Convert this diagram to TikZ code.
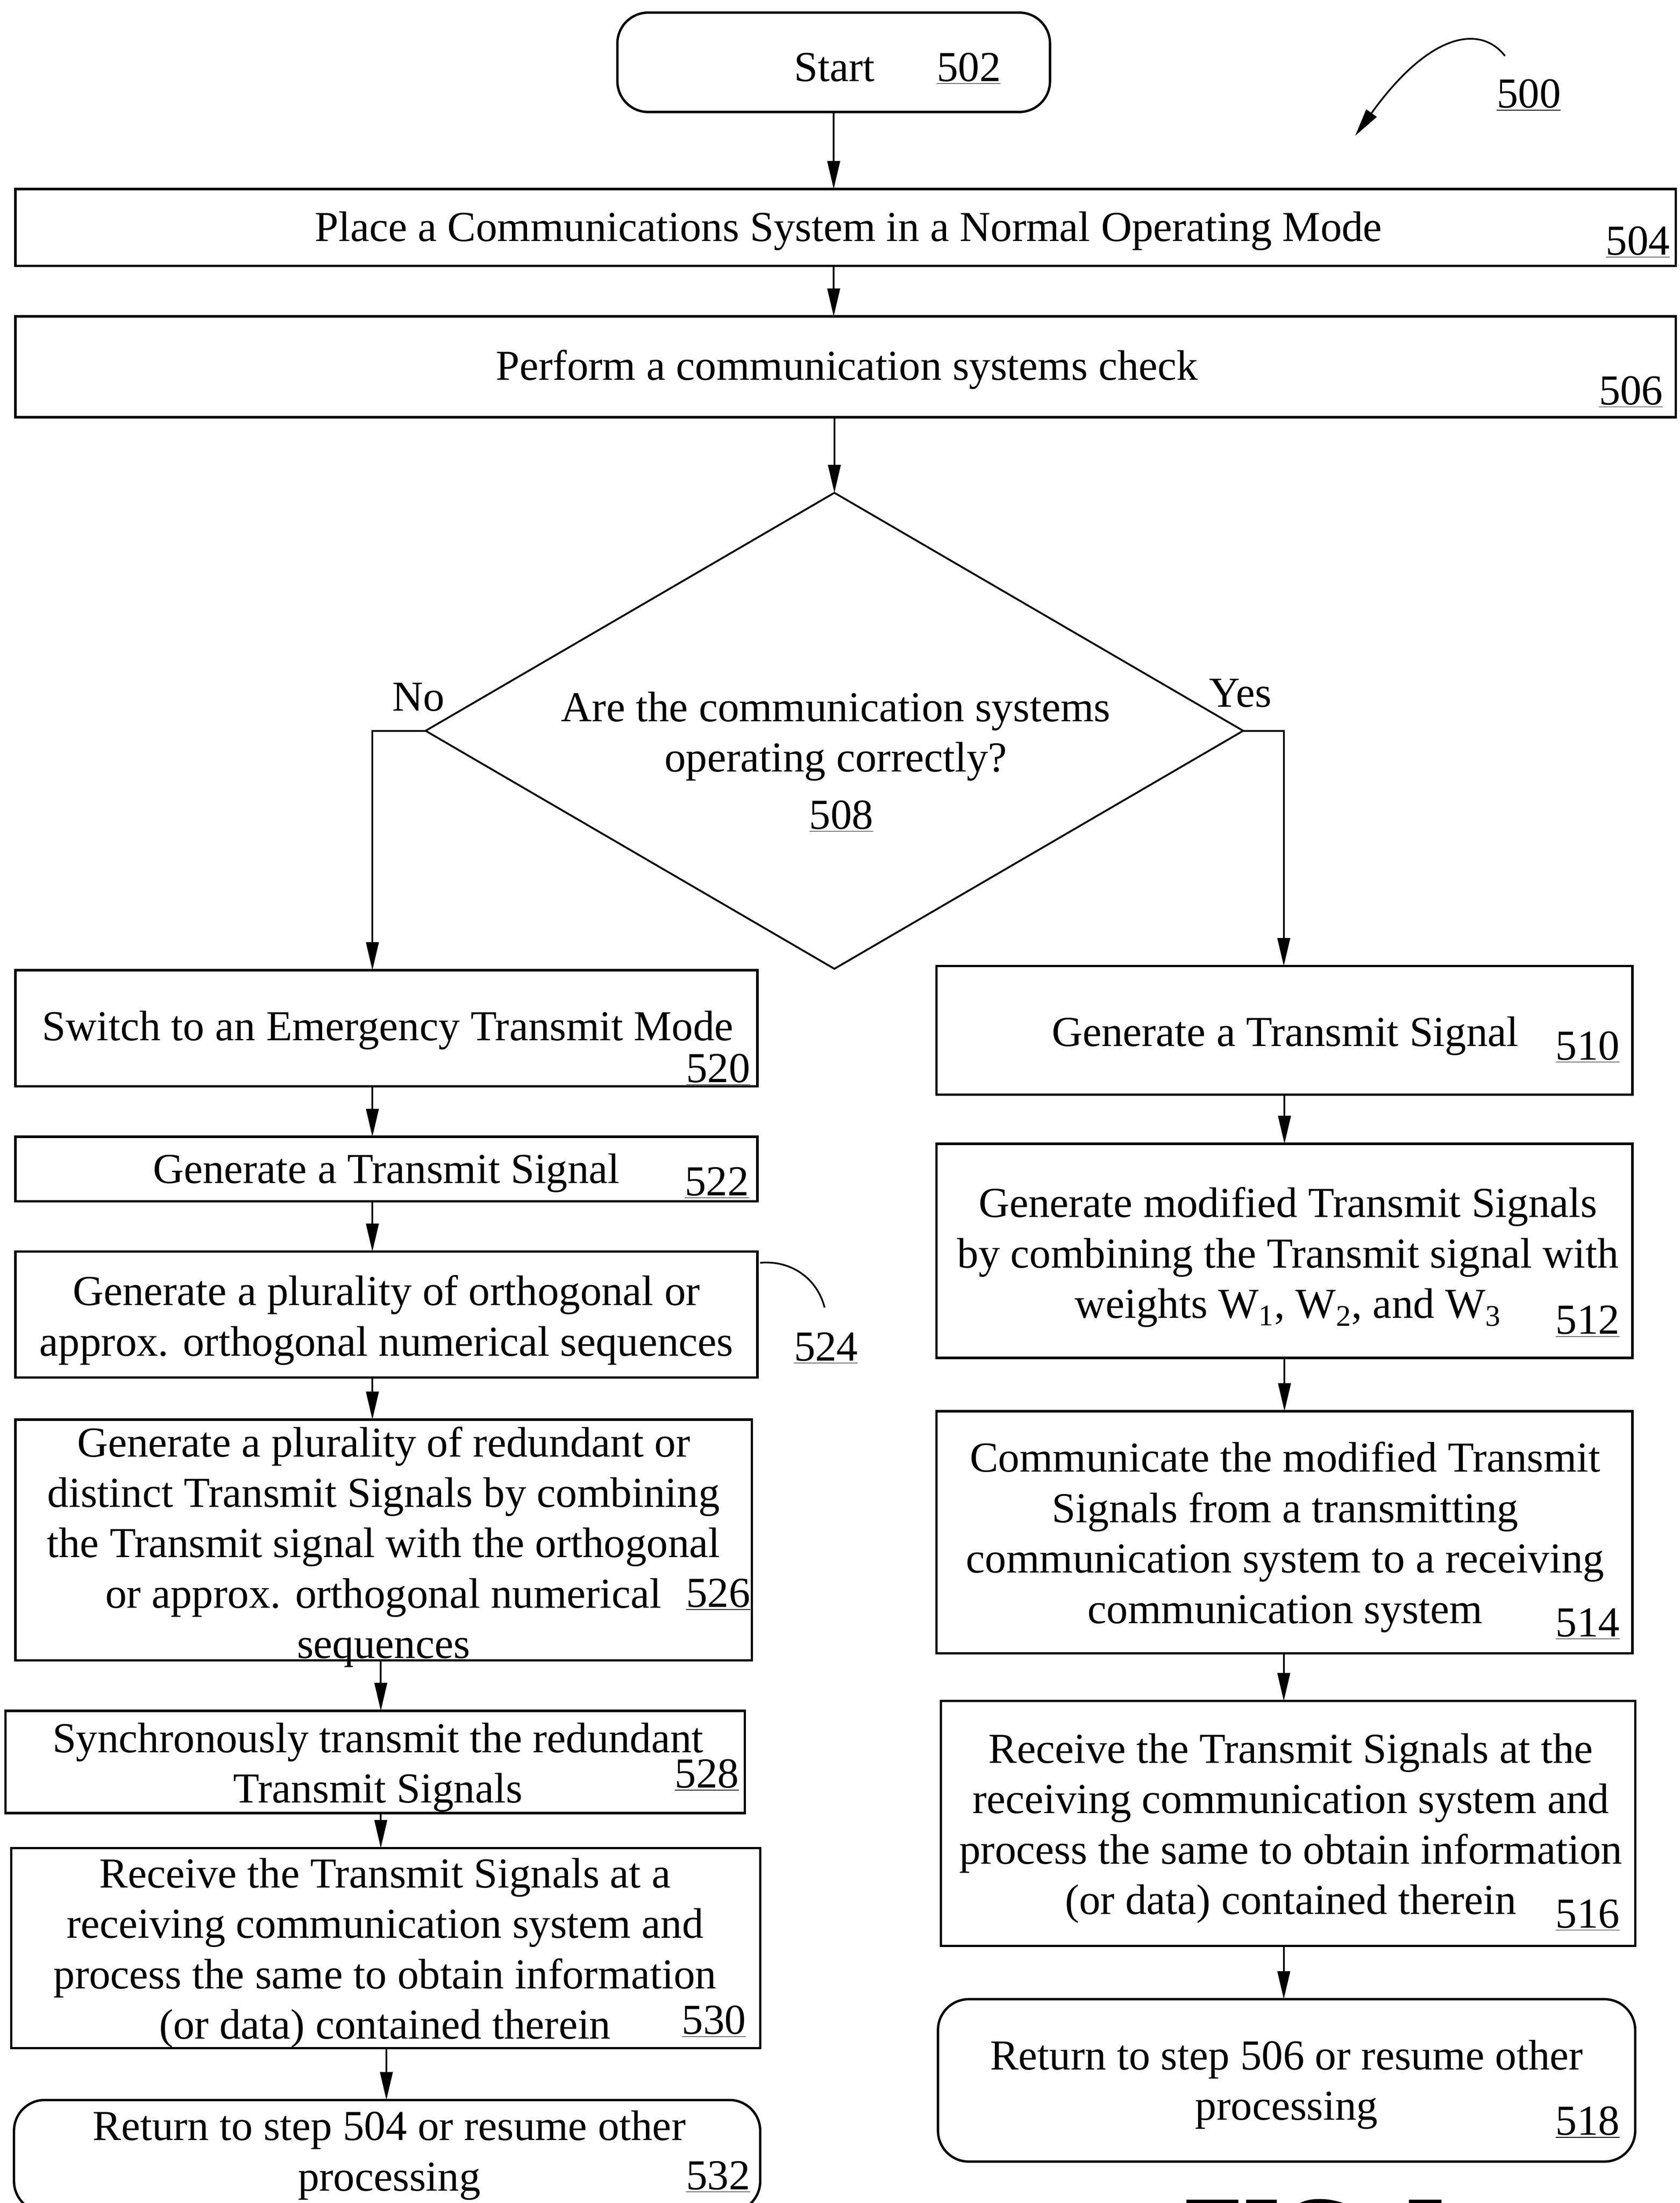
\documentclass[tikz,border=0pt]{standalone}
\usepackage{fontspec}
\setmainfont{Liberation Serif}
\usetikzlibrary{arrows.meta,shapes.geometric,calc}
\newcommand\myfs{\fontsize{30.5}{36}\selectfont}
\newcommand\bx[6]{\node[#6, minimum width={#4-#2}, minimum height={#5-#3}] (#1) at ({(#2+#4)/2},{(#3+#5)/2}) {};}
\tikzset{
  box/.style={draw, line width=1.7pt, inner sep=0pt, outer sep=0pt},
  rbox/.style={box, rounded corners=22pt},
  txt/.style={font=\myfs, align=center, inner sep=0pt, yshift=-3pt},
  num/.style={font=\myfs, inner sep=0pt, yshift=-3pt},
  arr/.style={line width=1.2pt, -{Triangle[length=20pt,width=9pt]}},
  lead/.style={line width=1.2pt},
}
\begin{document}
\begin{tikzpicture}[x=1pt,y=-1pt]
\useasboundingbox (0,0) rectangle (1200,1573.6);
% ---- boxes ----
\bx{n502}{441}{9}{750}{80}{rbox}
\bx{n504}{11}{135}{1197}{190}{box}
\bx{n506}{11}{226}{1197}{298}{box}
\node[diamond, draw, line width=1.3pt, inner sep=0pt, outer sep=0pt, minimum width=584pt, minimum height=340pt] (d508) at (596,522) {};
\bx{n520}{11}{693}{541}{776}{box}
\bx{n522}{11}{812}{541}{858}{box}
\bx{n524}{11}{894}{541}{984}{box}
\bx{n526}{11}{1014}{537}{1186}{box}
\bx{n528}{4}{1222}{532}{1295}{box}
\bx{n530}{8}{1320}{543}{1463}{box}
\bx{n532}{10}{1500}{543}{1580}{rbox}
\bx{n510}{669}{690}{1166}{782}{box}
\bx{n512}{669}{817}{1166}{970}{box}
\bx{n514}{669}{1008}{1166}{1181}{box}
\bx{n516}{672}{1215}{1168}{1390}{box}
\bx{n518}{670}{1428}{1168}{1544}{rbox}
% ---- texts ----
\node[num] (t502) at (596,45) {Start};
\node[num] (k502) at (692,46) {\underline{502}};
\node[num] (k500) at (1092,65) {\underline{500}};
\node[txt] (t504) at (606,162) {Place a Communications System in a Normal Operating Mode};
\node[num] (k504) at (1170,170) {\underline{504}};
\node[txt] (t506) at (605,261) {Perform a communication systems check};
\node[num] (k506) at (1165,277) {\underline{506}};
\node[txt] (t508) at (597,523) {Are the communication systems\\operating correctly?};
\node[num] (k508) at (601,580) {\underline{508}};
\node[num] (lno) at (299,495) {No};
\node[num] (lyes) at (886,492) {Yes};
\node[txt] (t520) at (277,733) {Switch to an Emergency Transmit Mode};
\node[num] (k520) at (513,761) {\underline{520}};
\node[txt] (t522) at (276,835) {Generate a Transmit Signal};
\node[num] (k522) at (512,842) {\underline{522}};
\node[txt] (t524) at (276,940) {Generate a plurality of orthogonal or\\approx. orthogonal numerical sequences};
\node[num] (k524) at (590,960) {\underline{524}};
\node[txt] (t526) at (274,1102) {Generate a plurality of redundant or\\distinct Transmit Signals by combining\\the Transmit signal with the orthogonal\\or approx. orthogonal numerical\\sequences};
\node[num] (k526) at (513,1136) {\underline{526}};
\node[txt] (t528) at (270,1259.5) {Synchronously transmit the redundant\\Transmit Signals};
\node[num] (k528) at (505,1265) {\underline{528}};
\node[txt] (t530) at (275,1392) {Receive the Transmit Signals at a\\receiving communication system and\\process the same to obtain information\\(or data) contained therein};
\node[num] (k530) at (510,1441) {\underline{530}};
\node[txt] (t532) at (278,1536.5) {Return to step 504 or resume other\\processing};
\node[num] (k532) at (513,1552) {\underline{532}};
\node[txt] (t510) at (918,737) {Generate a Transmit Signal};
\node[num] (k510) at (1134,745) {\underline{510}};
\node[txt] (t512) at (920,895) {Generate modified Transmit Signals\\by combining the Transmit signal with\\weights W\textsubscript{1}, W\textsubscript{2}, and W\textsubscript{3}};
\node[num] (k512) at (1134,941) {\underline{512}};
\node[txt] (t514) at (918,1095) {Communicate the modified Transmit\\Signals from a transmitting\\communication system to a receiving\\communication system};
\node[num] (k514) at (1134,1157) {\underline{514}};
\node[txt] (t516) at (922,1303) {Receive the Transmit Signals at the\\receiving communication system and\\process the same to obtain information\\(or data) contained therein};
\node[num] (k516) at (1134,1365) {\underline{516}};
\node[txt] (t518) at (919,1486) {Return to step 506 or resume other\\processing};
\node[num] (k518) at (1134,1513) {\underline{518}};
\node[font=\fontsize{68}{80}\selectfont\bfseries, inner sep=0pt, anchor=base] (fig) at (941,1616) {FIG. 5};
% ---- connectors ----
\coordinate (xL1) at (266,0);
\coordinate (xL2) at (272,0);
\coordinate (xL3) at (276,0);
\coordinate (xR) at (917,0);
\draw[arr] (n502.south) -- (n504.north -| n502.south);
\draw[arr] (n504.south -| n502.south) -- (n506.north -| n502.south);
\draw[arr] (n506.south -| d508.north) -- (d508.north);
\draw[arr] (d508.west) -| (xL1 |- n520.north);
\draw[arr] (d508.east) -| (xR |- n510.north);
\draw[arr] (xL1 |- n520.south) -- (xL1 |- n522.north);
\draw[arr] (xL1 |- n522.south) -- (xL1 |- n524.north);
\draw[arr] (xL1 |- n524.south) -- (xL1 |- n526.north);
\draw[arr] (xL2 |- n526.south) -- (xL2 |- n528.north);
\draw[arr] (xL2 |- n528.south) -- (xL2 |- n530.north);
\draw[arr] (xL3 |- n530.south) -- (xL3 |- n532.north);
\draw[arr] (n510.south) -- (n512.north);
\draw[arr] (n512.south) -- (n514.north);
\draw[arr] (n514.south -| xR) -- (n516.north -| xR);
\draw[arr] (n516.south -| xR) -- (n518.north -| xR);
% leader lines
\coordinate (c500a) at (1075,40);
\coordinate (c500b) at (968,97);
\draw[arr] (c500a) .. controls (1058,18) and (1022,22) .. (c500b);
\coordinate (c524) at (589,934);
\draw[lead] (n524.north east) ++(2,8) .. controls (566,900) and (584,914) .. (c524);
\end{tikzpicture}
\end{document}
